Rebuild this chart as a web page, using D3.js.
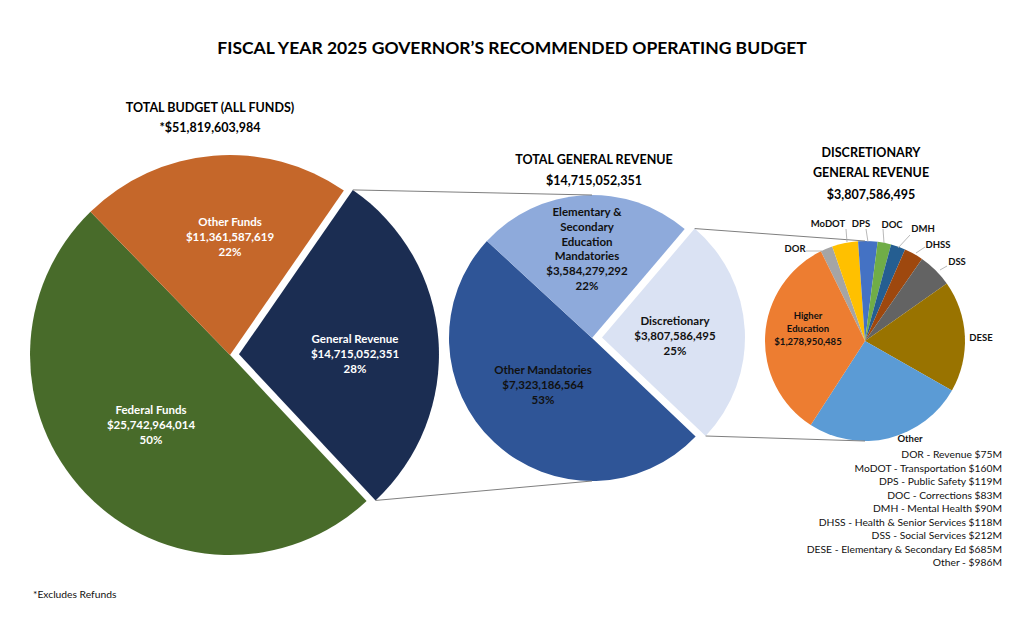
<!DOCTYPE html>
<html>
<head>
<meta charset="utf-8">
<script src="https://cdn.jsdelivr.net/npm/d3@7"></script>
<style>
  html, body { margin: 0; padding: 0; background: #fff; }
  svg text { font-family: Lato, "Open Sans", sans-serif; }
</style>
</head>
<body>
<svg id="chart" width="1024" height="622"></svg>
<script>
// ---------- DATA ----------
const totalCategories = ["General Revenue", "Federal Funds", "Other Funds"];
const totalValues = [14715052351, 25742964014, 11361587619];
const totalPercents = ["28%", "50%", "22%"];
const totalColors = ["#1B2D52", "#486B2A", "#C5672A"];

const grCategories = ["Discretionary", "Other Mandatories", "Elementary & Secondary Education Mandatories"];
const grValues = [3807586495, 7323186564, 3584279292];
const grPercents = ["25%", "53%", "22%"];
const grColors = ["#DAE2F3", "#2F5597", "#8EAADB"];

const discCategories = ["DOR", "MoDOT", "DPS", "DOC", "DMH", "DHSS", "DSS", "DESE", "Other", "Higher Education"];
const discValues = [75, 160, 119, 83, 90, 118, 212, 685, 986, 1278.950485];
const discColors = ["#A5A5A5", "#FFC000", "#4472C4", "#70AD47", "#255E91", "#9E480E", "#636363", "#997300", "#5B9BD5", "#ED7D31"];

const legendLines = [
  "DOR - Revenue $75M",
  "MoDOT - Transportation $160M",
  "DPS - Public Safety $119M",
  "DOC - Corrections $83M",
  "DMH - Mental Health $90M",
  "DHSS - Health & Senior Services $118M",
  "DSS - Social Services $212M",
  "DESE - Elementary & Secondary Ed $685M",
  "Other - $986M"
];

const totalBudget = 51819603984;
const totalGR = 14715052351;
const totalDisc = 3807586495;

// ---------- SETUP ----------
const svg = d3.select("#chart");
const deg = Math.PI / 180;
const fmt = d3.format("$,");

svg.append("text").attr("x", 512).attr("y", 54).attr("text-anchor", "middle")
  .attr("font-size", 17.5).attr("font-weight", 700).attr("fill", "#000")
  .text("FISCAL YEAR 2025 GOVERNOR\u2019S RECOMMENDED OPERATING BUDGET");

function title(lines, x, ys, size) {
  lines.forEach((t, i) => svg.append("text").attr("x", x).attr("y", ys[i])
    .attr("text-anchor", "middle").attr("font-size", size).attr("font-weight", 700)
    .attr("fill", "#000").text(t));
}
title(["TOTAL BUDGET (ALL FUNDS)", "*" + fmt(totalBudget)], 210, [112, 132], 12.5);
title(["TOTAL GENERAL REVENUE", fmt(totalGR)], 594, [164, 185], 12.5);
title(["DISCRETIONARY", "GENERAL REVENUE", fmt(totalDisc)], 871, [157, 177, 199], 12.5);

// ---------- PIE 1 ----------
const c1 = { x: 230, y: 355, r: 200 };
const pie1 = d3.pie().sort(null).startAngle(34.7 * deg).endAngle(34.7 * deg + 2 * Math.PI);
const arcs1 = pie1(totalValues);
const arc1 = d3.arc().innerRadius(0).outerRadius(c1.r);
const explode1 = 9;
const g1 = svg.append("g").attr("transform", `translate(${c1.x},${c1.y})`);
arcs1.forEach((a, i) => {
  const mid = (a.startAngle + a.endAngle) / 2;
  const off = i === 0 ? explode1 : 0;
  const dx = Math.sin(mid) * off, dy = -Math.cos(mid) * off;
  g1.append("path").attr("d", arc1(a)).attr("fill", totalColors[i])
    .attr("transform", `translate(${dx},${dy})`);
});
// pie1 labels
const lab1 = [
  { i: 1, x: 151, y: 414 },
  { i: 2, x: 230, y: 226 },
  { i: 0, x: 355, y: 343 }
];
lab1.forEach(l => {
  const lines = [totalCategories[l.i], fmt(totalValues[l.i]), totalPercents[l.i]];
  lines.forEach((t, k) => svg.append("text").attr("x", l.x).attr("y", l.y + k * 15)
    .attr("text-anchor", "middle").attr("font-size", 11.5).attr("font-weight", 700)
    .attr("fill", "#fff").text(t));
});

// ---------- PIE 2 ----------
const c2 = { x: 592, y: 338, r: 143 };
const grStart = 40.4 * deg;
const pie2 = d3.pie().sort(null).startAngle(grStart).endAngle(grStart + 2 * Math.PI);
const arcs2 = pie2(grValues);
const arc2 = d3.arc().innerRadius(0).outerRadius(c2.r);
const explode2 = 10;
const g2 = svg.append("g").attr("transform", `translate(${c2.x},${c2.y})`);
arcs2.forEach((a, i) => {
  const mid = (a.startAngle + a.endAngle) / 2;
  const off = i === 0 ? explode2 : 0;
  const dx = Math.sin(mid) * off, dy = -Math.cos(mid) * off;
  g2.append("path").attr("d", arc2(a)).attr("fill", grColors[i])
    .attr("transform", `translate(${dx},${dy})`);
});
const lab2 = [
  { lines: ["Elementary &", "Secondary", "Education", "Mandatories", fmt(grValues[2]), grPercents[2]], x: 587, y: 216 },
  { lines: [grCategories[0], fmt(grValues[0]), grPercents[0]], x: 675, y: 325 },
  { lines: [grCategories[1], fmt(grValues[1]), grPercents[1]], x: 543, y: 374 }
];
lab2.forEach(l => l.lines.forEach((t, k) => svg.append("text").attr("x", l.x).attr("y", l.y + k * 14.8)
  .attr("text-anchor", "middle").attr("font-size", 11.5).attr("font-weight", 700)
  .attr("fill", "#111").text(t)));

// connector lines pie1 -> pie2
function cornerPoint(c, a, angle, off) {
  const mid = (a.startAngle + a.endAngle) / 2;
  const ox = c.x + Math.sin(mid) * off, oy = c.y - Math.cos(mid) * off;
  return [ox + Math.sin(angle) * c.r, oy - Math.cos(angle) * c.r];
}
const gr1 = arcs1[0];
const p1a = cornerPoint(c1, gr1, gr1.startAngle, explode1);
const p1b = cornerPoint(c1, gr1, gr1.endAngle, explode1);
svg.append("line").attr("x1", p1a[0]).attr("y1", p1a[1]).attr("x2", c2.x).attr("y2", c2.y - c2.r)
  .attr("stroke", "#7F7F7F").attr("stroke-width", 1);
svg.append("line").attr("x1", p1b[0]).attr("y1", p1b[1]).attr("x2", c2.x).attr("y2", c2.y + c2.r)
  .attr("stroke", "#7F7F7F").attr("stroke-width", 1);

// ---------- PIE 3 ----------
const c3 = { x: 865, y: 341, r: 100 };
const discStart = -26.2 * deg;
const pie3 = d3.pie().sort(null).startAngle(discStart).endAngle(discStart + 2 * Math.PI);
const arcs3 = pie3(discValues);
const arc3 = d3.arc().innerRadius(0).outerRadius(c3.r);
const g3 = svg.append("g").attr("transform", `translate(${c3.x},${c3.y})`);
arcs3.forEach((a, i) => {
  g3.append("path").attr("d", arc3(a)).attr("fill", discColors[i]);
});

// connector lines pie2 -> pie3
const disc2 = arcs2[0];
const p2a = cornerPoint(c2, disc2, disc2.startAngle, explode2);
const p2b = cornerPoint(c2, disc2, disc2.endAngle, explode2);
svg.append("line").attr("x1", p2a[0]).attr("y1", p2a[1]).attr("x2", c3.x).attr("y2", c3.y - c3.r)
  .attr("stroke", "#7F7F7F").attr("stroke-width", 1);
svg.append("line").attr("x1", p2b[0]).attr("y1", p2b[1]).attr("x2", c3.x).attr("y2", c3.y + c3.r)
  .attr("stroke", "#7F7F7F").attr("stroke-width", 1);

// pie3 labels
const lab3 = [
  { i: 0, x: 795, y: 252, lead: [[806, 251], [822, 251]] },
  { i: 1, x: 828, y: 227, lead: [[846, 229], [847, 242]] },
  { i: 2, x: 861, y: 227, lead: [[866, 229], [868, 242]] },
  { i: 3, x: 892, y: 228, lead: [[883, 229], [884, 243]] },
  { i: 4, x: 923, y: 232, lead: [[910, 235], [898, 248]] },
  { i: 5, x: 938, y: 248, lead: [[925, 247], [916, 253]] },
  { i: 6, x: 957, y: 265, lead: [[947, 266], [940, 270]] },
  { i: 7, x: 981, y: 341, lead: null },
  { i: 8, x: 910, y: 442, lead: null }
];
lab3.forEach(l => {
  if (l.lead) svg.append("polyline").attr("points", l.lead.map(p => p.join(",")).join(" "))
    .attr("fill", "none").attr("stroke", "#A6A6A6").attr("stroke-width", 0.8);
  svg.append("text").attr("x", l.x).attr("y", l.y).attr("text-anchor", "middle")
    .attr("font-size", 9.5).attr("font-weight", 700).attr("fill", "#111").text(discCategories[l.i]);
});
["Higher", "Education", "$1,278,950,485"].forEach((t, k) => svg.append("text")
  .attr("x", 808).attr("y", 319 + k * 13).attr("text-anchor", "middle")
  .attr("font-size", 9.5).attr("font-weight", 700).attr("fill", "#111").text(t));

// legend text
legendLines.forEach((t, k) => svg.append("text").attr("x", 1002).attr("y", 458 + k * 13.5)
  .attr("text-anchor", "end").attr("font-size", 10.3).attr("fill", "#111").text(t));

svg.append("text").attr("x", 33).attr("y", 598).attr("font-size", 10.3).attr("fill", "#111")
  .text("*Excludes Refunds");
</script>
</body>
</html>
